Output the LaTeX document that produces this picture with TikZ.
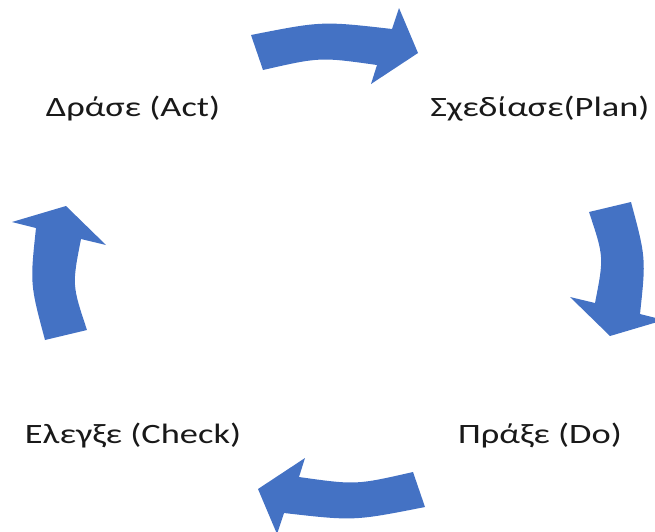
\documentclass[tikz,border=0pt]{standalone}
\usepackage{fontspec}
\setmainfont[FakeStretch=1.3]{Carlito}
\usetikzlibrary{positioning}
\definecolor{cycleblue}{HTML}{4472C4}

\begin{document}
\begin{tikzpicture}[x=1pt,y=-1pt,
 lbl/.style={anchor=base,font=\fontsize{28}{30}\selectfont,text=black!90},
 blk/.style={fill=cycleblue,draw=none}]
\useasboundingbox (0,0) rectangle (655,531);
\clip (0,0) rectangle (655,531);
% stage labels
\node[lbl] (act) at (133,116) {Δράσε (Act)};
\node[lbl] (plan) at (540,116) {Σχεδίασε(Plan)};
\node[lbl] (do) at (540,443) {Πράξε (Do)};
\node[lbl] (check) at (133,443) {Ελεγξε (Check)};
% curved block arrows, the lower two are the upper two turned round the middle
\coordinate (mid) at (338,271);
\fill[blk] (251,35) .. controls (322,21) .. (392,29) -- (399,8) -- (418,53)
 -- (371,84) -- (377,65) .. controls (320,57) .. (263,70) -- cycle;
\fill[blk] (631,202) .. controls (646,258) .. (640,314) -- (664,320) -- (610,336)
 -- (570,297) -- (595,303) .. controls (604,257) .. (589,212) -- cycle;
\begin{scope}[rotate around={180:(mid)}]
\fill[blk] (251,35) .. controls (322,21) .. (392,29) -- (399,8) -- (418,53)
 -- (371,84) -- (377,65) .. controls (320,57) .. (263,70) -- cycle;
\fill[blk] (631,202) .. controls (646,258) .. (640,314) -- (664,320) -- (610,336)
 -- (570,297) -- (595,303) .. controls (604,257) .. (589,212) -- cycle;
\end{scope}
\end{tikzpicture}
\end{document}
